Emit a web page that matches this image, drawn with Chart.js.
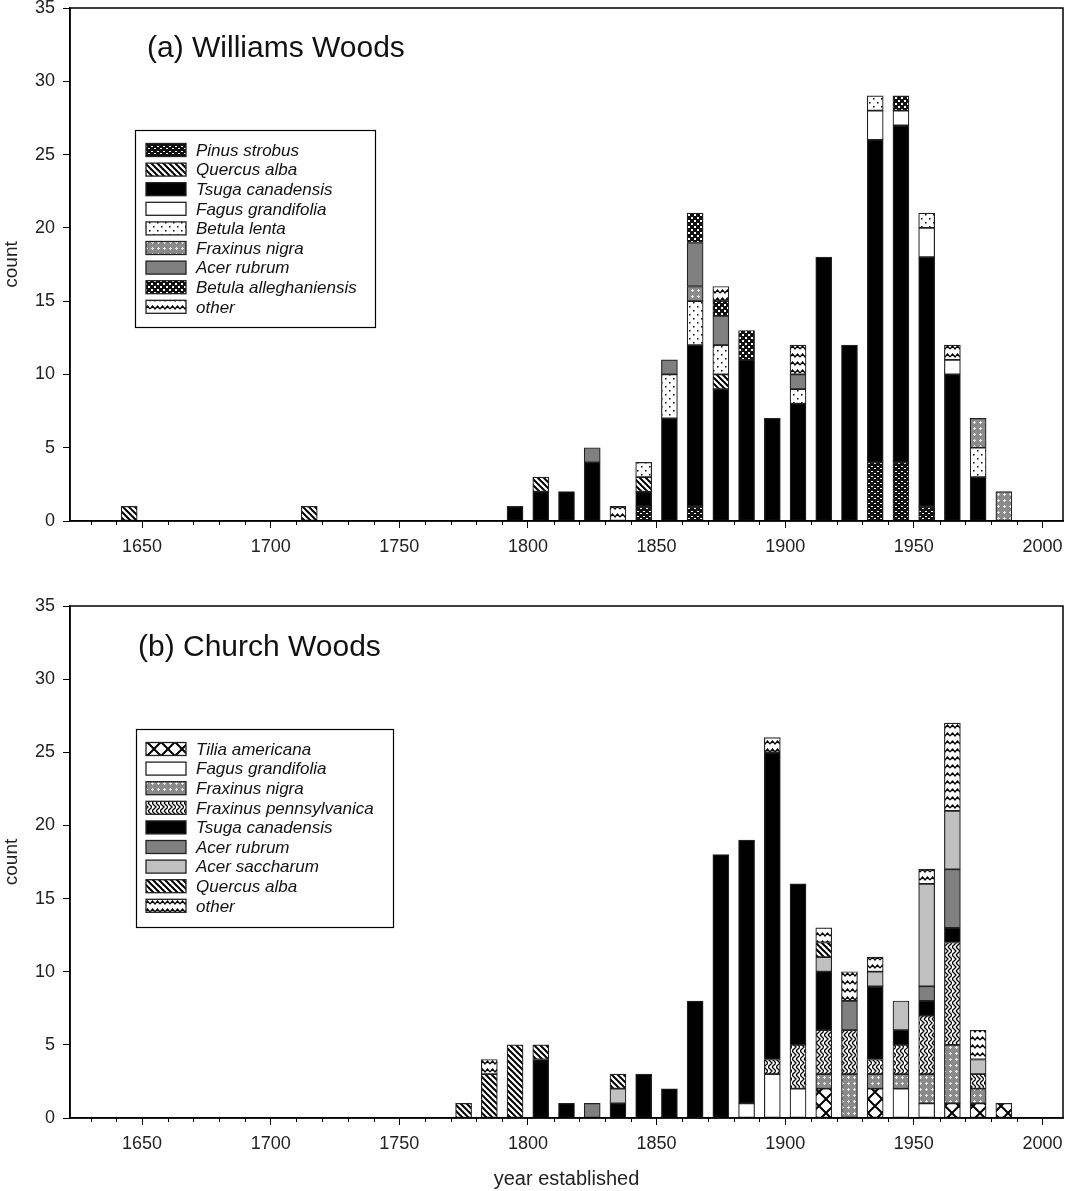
<!DOCTYPE html>
<html>
<head>
<meta charset="utf-8">
<script src="https://cdn.jsdelivr.net/npm/chart.js@4.4.0/dist/chart.umd.min.js"></script>
<style>
  html, body { margin: 0; padding: 0; background: #fff; }
  canvas { display: block; }
</style>
</head>
<body>
<canvas id="chartA" width="1066" height="595"></canvas>
<canvas id="chartB" width="1066" height="596"></canvas>
<script>
// (a) Williams Woods - counts per decade (bar centred mid-decade)
const yearsA = [1645, 1715, 1795, 1805, 1815, 1825, 1835, 1845, 1855, 1865, 1875, 1885, 1895, 1905, 1915, 1925, 1935, 1945, 1955, 1965, 1975, 1985];
const pinusA       = [0, 0, 0, 0, 0, 0, 0, 1, 0, 1, 0, 0, 0, 0, 0, 0, 4, 4, 1, 0, 0, 0];
const tsugaA       = [0, 0, 1, 2, 2, 4, 0, 1, 7, 11, 9, 11, 7, 8, 18, 12, 22, 23, 17, 10, 3, 0];
const quercusA     = [1, 1, 0, 1, 0, 0, 0, 1, 0, 0, 1, 0, 0, 0, 0, 0, 0, 0, 0, 0, 0, 0];
const fagusA       = [0, 0, 0, 0, 0, 0, 0, 0, 0, 0, 0, 0, 0, 0, 0, 0, 2, 1, 2, 1, 0, 0];
const betulaLentaA = [0, 0, 0, 0, 0, 0, 0, 1, 3, 3, 2, 0, 0, 1, 0, 0, 1, 0, 1, 0, 2, 0];
const fraxNigraA   = [0, 0, 0, 0, 0, 0, 0, 0, 0, 1, 0, 0, 0, 0, 0, 0, 0, 0, 0, 0, 2, 2];
const acerRubrumA  = [0, 0, 0, 0, 0, 1, 0, 0, 1, 3, 2, 0, 0, 1, 0, 0, 0, 0, 0, 0, 0, 0];
const betulaAllA   = [0, 0, 0, 0, 0, 0, 0, 0, 0, 2, 1, 2, 0, 0, 0, 0, 0, 1, 0, 0, 0, 0];
const otherA       = [0, 0, 0, 0, 0, 0, 1, 0, 0, 0, 1, 0, 0, 2, 0, 0, 0, 0, 0, 1, 0, 0];

// (b) Church Woods
const yearsB = [1775, 1785, 1795, 1805, 1815, 1825, 1835, 1845, 1855, 1865, 1875, 1885, 1895, 1905, 1915, 1925, 1935, 1945, 1955, 1965, 1975, 1985];
const tiliaB       = [0, 0, 0, 0, 0, 0, 0, 0, 0, 0, 0, 0, 0, 0, 2, 0, 2, 0, 0, 1, 1, 1];
const fagusB       = [0, 0, 0, 0, 0, 0, 0, 0, 0, 0, 0, 1, 3, 2, 0, 0, 0, 2, 1, 0, 0, 0];
const fraxNigraB   = [0, 0, 0, 0, 0, 0, 0, 0, 0, 0, 0, 0, 0, 0, 1, 3, 1, 1, 2, 4, 1, 0];
const fraxPennB    = [0, 0, 0, 0, 0, 0, 0, 0, 0, 0, 0, 0, 1, 3, 3, 3, 1, 2, 4, 7, 1, 0];
const tsugaB       = [0, 0, 0, 4, 1, 0, 1, 3, 2, 8, 18, 18, 21, 11, 4, 0, 5, 1, 1, 1, 0, 0];
const acerRubrumB  = [0, 0, 0, 0, 0, 1, 0, 0, 0, 0, 0, 0, 0, 0, 0, 2, 0, 0, 1, 4, 0, 0];
const acerSacchB   = [0, 0, 0, 0, 0, 0, 1, 0, 0, 0, 0, 0, 0, 0, 1, 0, 1, 2, 7, 4, 1, 0];
const quercusB     = [1, 3, 5, 1, 0, 0, 1, 0, 0, 0, 0, 0, 0, 0, 1, 0, 0, 0, 0, 0, 0, 0];
const otherB       = [0, 1, 0, 0, 0, 0, 0, 0, 0, 0, 0, 0, 1, 0, 1, 2, 1, 0, 1, 6, 2, 0];

const majorTicks = [1650, 1700, 1750, 1800, 1850, 1900, 1950, 2000];
const FONT = 'Arial, "Liberation Sans", sans-serif';

// fill patterns
function tile(w, h, draw) {
  const c = document.createElement('canvas');
  c.width = w; c.height = h;
  const g = c.getContext('2d');
  draw(g, w, h);
  return g.createPattern(c, 'repeat');
}

const fills = {
  'Pinus strobus': tile(6, 5, (g) => {
    g.fillStyle = '#111'; g.fillRect(0, 0, 6, 5);
    g.fillStyle = '#fff'; g.fillRect(1, 1, 2, 1); g.fillRect(4, 3, 2, 1);
  }),
  'Quercus alba': tile(6, 6, (g) => {
    g.fillStyle = '#fff'; g.fillRect(0, 0, 6, 6);
    g.strokeStyle = '#000'; g.lineWidth = 2;
    for (let k = -1; k <= 1; k++) { g.beginPath(); g.moveTo(-1, k * 6 - 1); g.lineTo(7, k * 6 + 7); g.stroke(); }
  }),
  'Tsuga canadensis': '#000',
  'Fagus grandifolia': '#fff',
  'Betula lenta': tile(8, 8, (g) => {
    g.fillStyle = '#fff'; g.fillRect(0, 0, 8, 8);
    g.fillStyle = '#000'; g.fillRect(1, 2, 1.5, 1.5); g.fillRect(5, 6, 1.5, 1.5);
  }),
  'Fraxinus nigra': tile(6, 6, (g) => {
    g.fillStyle = '#8a8a8a'; g.fillRect(0, 0, 6, 6);
    g.fillStyle = '#e8e8e8'; g.fillRect(2, 1, 1, 3); g.fillRect(1, 2, 3, 1);
  }),
  'Acer rubrum': '#808080',
  'Betula alleghaniensis': tile(6, 6, (g) => {
    g.fillStyle = '#111'; g.fillRect(0, 0, 6, 6);
    g.fillStyle = '#fff'; g.fillRect(1, 1, 2, 2); g.fillRect(4, 4, 2, 2);
  }),
  'other': tile(10, 8, (g) => {
    g.fillStyle = '#fff'; g.fillRect(0, 0, 10, 8);
    g.strokeStyle = '#000'; g.lineWidth = 1.3;
    g.beginPath(); g.moveTo(0, 5); g.lineTo(2.5, 2); g.lineTo(5, 5); g.lineTo(7.5, 2); g.lineTo(10, 5); g.stroke();
  }),
  'Tilia americana': tile(14, 14, (g) => {
    g.fillStyle = '#fff'; g.fillRect(0, 0, 14, 14);
    g.strokeStyle = '#000'; g.lineWidth = 2;
    g.beginPath(); g.moveTo(0, 0); g.lineTo(14, 14); g.moveTo(14, 0); g.lineTo(0, 14); g.stroke();
  }),
  'Fraxinus pennsylvanica': tile(8, 8, (g) => {
    g.fillStyle = '#fff'; g.fillRect(0, 0, 8, 8);
    g.strokeStyle = '#000'; g.lineWidth = 1.3;
    g.beginPath();
    g.moveTo(0, 0); g.lineTo(4, 4); g.lineTo(0, 8);
    g.moveTo(4, 0); g.lineTo(8, 4); g.lineTo(4, 8);
    g.stroke();
  }),
  'Acer saccharum': '#c0c0c0'
};

function points(years, vals) {
  return years.map((yr, i) => ({ x: yr, y: vals[i] })).filter(p => p.y > 0);
}

function ds(name, years, vals) {
  return {
    label: name,
    data: points(years, vals),
    backgroundColor: fills[name],
    borderColor: '#222',
    borderWidth: 1.2,
    borderSkipped: false,
    barThickness: 16
  };
}

const panelDecor = {
  id: 'panelDecor',
  afterDraw(chart, args, o) {
    const ctx = chart.ctx, a = chart.chartArea, x = chart.scales.x;
    ctx.save();
    ctx.strokeStyle = '#000';
    ctx.lineWidth = 1.5;
    ctx.strokeRect(a.left, a.top, a.right - a.left, a.bottom - a.top);
    // minor ticks every 10 years
    ctx.lineWidth = 1;
    for (let v = 1630; v <= 2000; v += 10) {
      if (v % 50 === 0) continue;
      const px = Math.round(x.getPixelForValue(v)) + 0.5;
      ctx.beginPath(); ctx.moveTo(px, a.bottom); ctx.lineTo(px, a.bottom + 4); ctx.stroke();
    }
    // panel title
    ctx.fillStyle = '#111';
    ctx.textBaseline = 'middle';
    ctx.font = '30px ' + FONT;
    ctx.fillText(o.title, o.titleX, o.titleY);
    // legend box
    const L = o.legend;
    ctx.fillStyle = '#fff';
    ctx.fillRect(L.x, L.y, L.w, L.h);
    ctx.strokeStyle = '#000';
    ctx.lineWidth = 1.2;
    ctx.strokeRect(L.x + 0.5, L.y + 0.5, L.w, L.h);
    ctx.font = 'italic 17px ' + FONT;
    L.names.forEach((name, i) => {
      const cy = L.y + L.first + i * L.row;
      ctx.fillStyle = fills[name];
      ctx.fillRect(146, cy - 6.5, 40, 13);
      ctx.strokeStyle = '#222';
      ctx.lineWidth = 1.3;
      ctx.strokeRect(146, cy - 6.5, 40, 13);
      ctx.fillStyle = '#111';
      ctx.fillText(name, 196, cy + 1);
    });
    ctx.restore();
  }
};

function makeChart(id, datasets, cfg) {
  return new Chart(document.getElementById(id), {
    type: 'bar',
    data: { datasets: datasets },
    plugins: [panelDecor],
    options: {
      responsive: false,
      animation: false,
      events: [],
      layout: { padding: { top: cfg.top, right: 3, left: 0, bottom: 0 } },
      plugins: {
        legend: { display: false },
        tooltip: { enabled: false },
        panelDecor: cfg.decor
      },
      scales: {
        x: {
          type: 'linear',
          min: 1622,
          max: 2008,
          offset: false,
          stacked: true,
          afterBuildTicks: (s) => { s.ticks = majorTicks.map(v => ({ value: v })); },
          afterFit: (s) => { s.height = cfg.xHeight; s.paddingLeft = 0; s.paddingRight = 0; },
          grid: { drawOnChartArea: false, offset: false, tickLength: 7, tickColor: '#000', tickWidth: 1 },
          border: { color: '#000', width: 1.5 },
          ticks: {
            color: '#222', padding: 8, maxRotation: 0, autoSkip: false,
            font: { family: FONT, size: 18 },
            callback: (v) => String(v)
          },
          title: {
            display: cfg.xTitle,
            text: 'year established',
            color: '#222',
            font: { family: FONT, size: 20 },
            padding: { top: 0, bottom: 0 }
          }
        },
        y: {
          min: 0,
          max: 35,
          stacked: true,
          afterFit: (s) => { s.width = 70; s.paddingTop = 0; s.paddingBottom = 0; },
          grid: { drawOnChartArea: false, tickLength: 7, tickColor: '#000', tickWidth: 1 },
          border: { color: '#000', width: 1.5 },
          ticks: { stepSize: 5, color: '#222', padding: 8, font: { family: FONT, size: 18 } },
          title: {
            display: true,
            text: 'count',
            color: '#222',
            font: { family: FONT, size: 19 },
            padding: { top: 0, bottom: 0 }
          }
        }
      }
    }
  });
}

makeChart('chartA', [
  ds('Pinus strobus', yearsA, pinusA),
  ds('Tsuga canadensis', yearsA, tsugaA),
  ds('Quercus alba', yearsA, quercusA),
  ds('Fagus grandifolia', yearsA, fagusA),
  ds('Betula lenta', yearsA, betulaLentaA),
  ds('Fraxinus nigra', yearsA, fraxNigraA),
  ds('Acer rubrum', yearsA, acerRubrumA),
  ds('Betula alleghaniensis', yearsA, betulaAllA),
  ds('other', yearsA, otherA)
], {
  top: 8, xHeight: 74, xTitle: false,
  decor: {
    title: '(a) Williams Woods', titleX: 147, titleY: 49,
    legend: {
      x: 135, y: 130, w: 240, h: 197, first: 20, row: 19.6,
      names: ['Pinus strobus', 'Quercus alba', 'Tsuga canadensis', 'Fagus grandifolia', 'Betula lenta',
              'Fraxinus nigra', 'Acer rubrum', 'Betula alleghaniensis', 'other']
    }
  }
});

makeChart('chartB', [
  ds('Tilia americana', yearsB, tiliaB),
  ds('Fagus grandifolia', yearsB, fagusB),
  ds('Fraxinus nigra', yearsB, fraxNigraB),
  ds('Fraxinus pennsylvanica', yearsB, fraxPennB),
  ds('Tsuga canadensis', yearsB, tsugaB),
  ds('Acer rubrum', yearsB, acerRubrumB),
  ds('Acer saccharum', yearsB, acerSacchB),
  ds('Quercus alba', yearsB, quercusB),
  ds('other', yearsB, otherB)
], {
  top: 11, xHeight: 73, xTitle: true,
  decor: {
    title: '(b) Church Woods', titleX: 138, titleY: 53,
    legend: {
      x: 136, y: 134, w: 257, h: 198, first: 20, row: 19.6,
      names: ['Tilia americana', 'Fagus grandifolia', 'Fraxinus nigra', 'Fraxinus pennsylvanica', 'Tsuga canadensis',
              'Acer rubrum', 'Acer saccharum', 'Quercus alba', 'other']
    }
  }
});
</script>
</body>
</html>
